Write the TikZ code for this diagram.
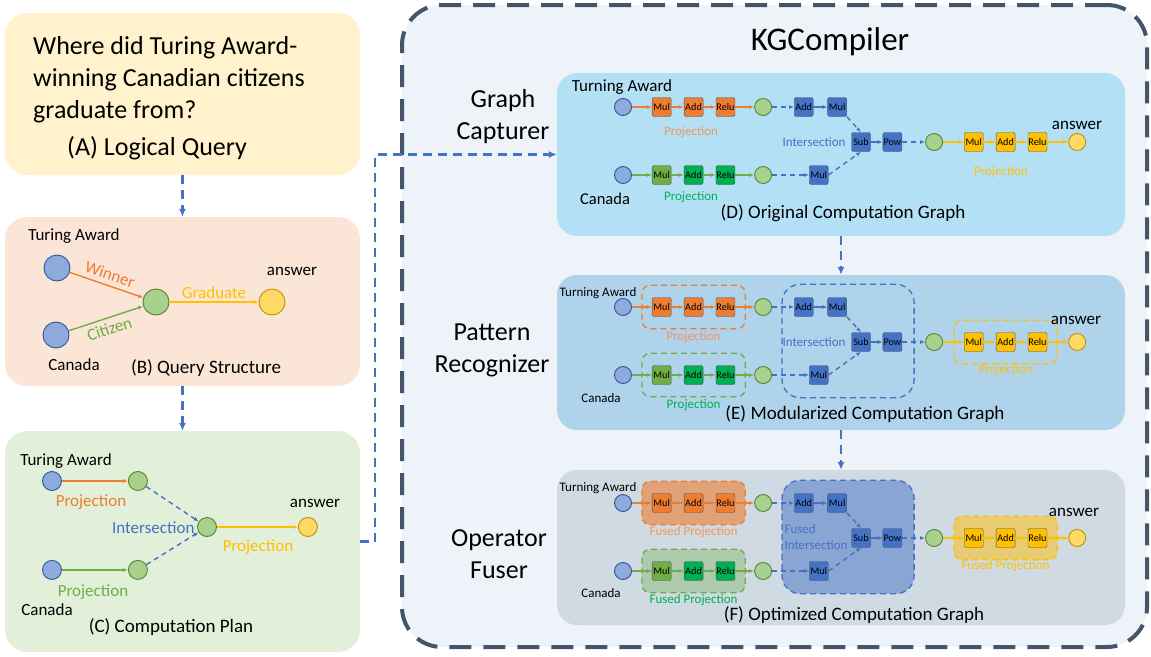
\documentclass[tikz,border=0pt]{standalone}
\usepackage{fontspec}
\setmainfont{Carlito}
\usetikzlibrary{positioning, fit, arrows.meta}

\definecolor{kgorange}{HTML}{ED7D31}
\definecolor{kggreen}{HTML}{70AD47}
\definecolor{kgbright}{HTML}{00B050}
\definecolor{kgyellow}{HTML}{FFC000}
\definecolor{kgblue}{HTML}{4472C4}
\definecolor{kgslate}{HTML}{44546A}
\definecolor{entfill}{HTML}{8FAADC}
\definecolor{entline}{HTML}{2F5597}
\definecolor{varfill}{HTML}{A9D18E}
\definecolor{varline}{HTML}{548235}
\definecolor{ansfill}{HTML}{FFD966}
\definecolor{ansline}{HTML}{BF9000}
\definecolor{queryfill}{HTML}{FFF2CC}
\definecolor{structfill}{HTML}{FBE5D6}
\definecolor{planfill}{HTML}{E2F0D9}
\definecolor{framefill}{HTML}{EEF3FA}
\definecolor{capfill}{HTML}{B4E0F5}
\definecolor{recfill}{HTML}{AFD3EA}
\definecolor{fusefill}{HTML}{D0DAE3}

\newcommand{\fsz}[1]{\fontsize{#1}{\fpeval{1.25*#1}}\selectfont}

\pgfdeclarelayer{back}
\pgfdeclarelayer{fused}
\pgfsetlayers{back,fused,main}

\tikzset{
    >={Latex[length=5pt,width=4pt]}, % small solid heads
    card/.style={rounded corners=22pt, minimum width=355pt, inner sep=0pt},
    panel/.style={rounded corners=20pt, minimum width=568pt, inner sep=0pt},
    op/.style={draw=kgslate, rounded corners=2pt, minimum width=19pt, minimum height=19pt, inner sep=0pt, font=\fsz{10.2}},
    ent/.style={circle, draw=entline, fill=entfill, line width=0.9pt, minimum size=#1, inner sep=0pt},
    ent/.default=17pt,
    var/.style={circle, draw=varline, fill=varfill, line width=0.9pt, minimum size=#1, inner sep=0pt},
    var/.default=17pt,
    ans/.style={circle, draw=ansline, fill=ansfill, line width=0.9pt, minimum size=#1, inner sep=0pt},
    ans/.default=17pt,
    flow/.style={->, draw=#1, line width=1.4pt},
    link/.style={->, draw=kgblue, line width=1.4pt, dash pattern=on 5pt off 4pt},
    stage/.style={-{Latex[length=8pt,width=7pt]}, draw=kgblue, line width=2.3pt, dash pattern=on 9pt off 6pt},
    modbox/.style={draw=#1, line width=1.3pt, dash pattern=on 6pt off 4pt, rounded corners=8pt, inner xsep=10pt, inner ysep=12pt},
}

% one computation graph, rows at 0 / 35 / 68
\newcommand{\opgraph}{%
    \node[ent] (ta) at (623,0) {};
    \node[op, fill=kgorange, right=20pt of ta] (pmul1) {Mul};
    \node[op, fill=kgorange, right=12.5pt of pmul1] (padd1) {Add};
    \node[op, fill=kgorange, right=12.5pt of padd1] (prelu1) {Relu};
    \node[var, right=19pt of prelu1] (v1) {};
    \node[op, fill=kgblue, right=22pt of v1] (iadd) {Add};
    \node[op, fill=kgblue, right=14pt of iadd] (imul1) {Mul};
    \node[ent] (ca) at (623,68) {};
    \node[op, fill=kggreen, right=20pt of ca] (pmul2) {Mul};
    \node[op, fill=kgbright, right=12.5pt of pmul2] (padd2) {Add};
    \node[op, fill=kgbright, right=12.5pt of padd2] (prelu2) {Relu};
    \node[var, right=19pt of prelu2] (v2) {};
    \node[op, fill=kgblue, right=37pt of v2] (imul2) {Mul};
    \node[op, fill=kgblue] (isub) at (861,35) {Sub};
    \node[op, fill=kgblue, right=12pt of isub] (ipow) {Pow};
    \node[var, right=23pt of ipow] (v3) {};
    \node[op, fill=kgyellow, right=21pt of v3] (ymul) {Mul};
    \node[op, fill=kgyellow, right=12.5pt of ymul] (yadd) {Add};
    \node[op, fill=kgyellow, right=12.5pt of yadd] (yrelu) {Relu};
    \node[ans, right=21pt of yrelu] (ans) {};
    \foreach \a/\b in {ta/pmul1, pmul1/padd1, padd1/prelu1, prelu1/v1}
        \draw[flow=kgorange] (\a) -- (\b);
    \foreach \a/\b in {ca/pmul2, pmul2/padd2, padd2/prelu2, prelu2/v2}
        \draw[flow=kggreen] (\a) -- (\b);
    \foreach \a/\b in {v3/ymul, ymul/yadd, yadd/yrelu, yrelu/ans}
        \draw[flow=kgyellow] (\a) -- (\b);
    \draw[link] (v1) -- (iadd);
    \draw[flow=kgblue] (iadd) -- (imul1);
    \draw[link] (imul1.south east) -- (isub.north);
    \draw[link] (v2) -- (imul2);
    \draw[link] (imul2.east) -- (isub.south);
    \draw[flow=kgblue] (isub) -- (ipow);
    \draw[link] (ipow) -- (v3);
}

\begin{document}
\begin{tikzpicture}[x=1pt, y=-1pt]
    \useasboundingbox (0,0) rectangle (1151,656);

    \begin{pgfonlayer}{back}
        \node[draw=kgslate, fill=framefill, line width=4pt, dash pattern=on 22pt off 12pt,
              rounded corners=40pt, minimum width=745pt, minimum height=642pt, inner sep=0pt] (kg) at (774.5,326) {};
        \node[card, fill=queryfill, minimum height=162pt] (qa) at (182.5,94) {};
        \node[card, fill=structfill, minimum height=169pt] (qb) at (182.5,301.5) {};
        \node[card, fill=planfill, minimum height=221pt] (qc) at (182.5,541.5) {};
        \node[panel, fill=capfill, minimum height=163pt] (gd) at (841,154.5) {};
        \node[panel, fill=recfill, minimum height=155pt] (ge) at (841,352.5) {};
        \node[panel, fill=fusefill, minimum height=155pt] (gf) at (841,547.5) {};
    \end{pgfonlayer}

    % (A) logical query
    \node[font=\fontsize{26}{32}\selectfont, align=left, anchor=north west, inner sep=0pt] (qtext) at (33,36)
        {Where did Turing Award-\\winning Canadian citizens\\graduate from?};
    \node[font=\fsz{26}, anchor=base west, inner sep=0pt] (qacap) at (67,155) {(A) Logical Query};

    % (B) query structure
    \node[ent=26pt] (bta) at (57,268) {};
    \node[ent=26pt] (bca) at (56,335) {};
    \node[var=26pt] (bvar) at (156,302) {};
    \node[ans=26pt] (bans) at (272,302) {};
    \draw[flow=kgorange] (bta) -- node[sloped, above=1pt, font=\fsz{17}, text=kgorange] (winner) {Winner} (bvar);
    \draw[flow=kggreen] (bca) -- node[sloped, below=1pt, font=\fsz{17}, text=kggreen] (citizen) {Citizen} (bvar);
    \draw[flow=kgyellow] (bvar) -- node[above=-1pt, font=\fsz{17}, text=kgyellow] (graduate) {Graduate} (bans);
    \node[font=\fsz{17}] (btalbl) at (74,236) {Turing Award};
    \node[font=\fsz{17}] (bcalbl) at (74,365) {Canada};
    \node[font=\fsz{17}] (banslbl) at (292,271) {answer};
    \node[font=\fsz{19}] (qbcap) at (206,368) {(B) Query Structure};

    % (C) computation plan
    \node[ent=19pt] (cta) at (52,481) {};
    \node[var=19pt, right=66pt of cta] (cv1) {};
    \node[ent=19pt, below=69pt of cta] (cca) {};
    \node[var=19pt, right=66pt of cca] (cv2) {};
    \node[var=19pt] (cvar) at (207,527) {};
    \node[ans=19pt, right=81pt of cvar] (cans) {};
    \draw[flow=kgorange] (cta) -- (cv1);
    \draw[flow=kggreen] (cca) -- (cv2);
    \draw[link] (cv1) -- (cvar);
    \draw[link] (cv2) -- (cvar);
    \draw[flow=kgyellow] (cvar) -- (cans);
    \node[font=\fsz{17}] (ctalbl) at (66,461) {Turing Award};
    \node[font=\fsz{17}, text=kgorange] (cproj1) at (91,502) {Projection};
    \node[font=\fsz{17}, text=kggreen] (cproj2) at (93,592) {Projection};
    \node[font=\fsz{17}, text=kgyellow] (cproj3) at (258,547) {Projection};
    \node[font=\fsz{17}, text=kgblue, anchor=east] (cinter) at (198,528) {Intersection};
    \node[font=\fsz{17}] (ccalbl) at (47,610) {Canada};
    \node[font=\fsz{17}] (canslbl) at (315,503) {answer};
    \node[font=\fsz{19}] (qccap) at (171,627) {(C) Computation Plan};

    % KGCompiler
    \node[font=\fsz{33}] (title) at (830,42) {KGCompiler};
    \node[font=\fontsize{26}{32}\selectfont, align=center] (capturer) at (503,117) {Graph\\Capturer};
    \node[font=\fontsize{26}{32}\selectfont, align=center] (recognizer) at (492,350) {Pattern\\Recognizer};
    \node[font=\fontsize{26}{32}\selectfont, align=center] (fuser) at (499,554) {Operator\\Fuser};

    % (D) original graph
    \begin{scope}[shift={(0,107)}, name prefix=d-]
        \opgraph
        \node[font=\fsz{17}] (talbl) at (622,-20) {Turning Award};
        \node[font=\fsz{16.5}] (calbl) at (605,92) {Canada};
        \node[font=\fsz{17}] (anslbl) at (1077,18) {answer};
        \node[font=\fsz{13}, text=kgorange!80] (plbl1) at (691,25) {Projection};
        \node[font=\fsz{13}, text=kgbright] (plbl2) at (691,90) {Projection};
        \node[font=\fsz{13}, text=kgyellow] (plbl3) at (1001,65) {Projection};
        \node[font=\fsz{13}, text=kgblue, anchor=east] (ilbl) at (849,35) {Intersection};
        \node[font=\fsz{19}] (cap) at (843,106) {(D) Original Computation Graph};
    \end{scope}

    % (E) modularized graph
    \begin{scope}[shift={(0,307)}, name prefix=e-]
        \opgraph
        \node[modbox=kgorange, fit=(pmul1)(prelu1)] (pbox1) {};
        \node[modbox=kggreen, fit=(pmul2)(prelu2)] (pbox2) {};
        \node[modbox=kgblue, rounded corners=18pt, inner xsep=12pt, inner ysep=13pt, fit=(iadd)(ipow)(imul2)] (ibox) {};
        \node[modbox=kgyellow, fit=(ymul)(yrelu)] (ybox) {};
        \node[font=\fsz{13}] (talbl) at (598,-14) {Turning Award};
        \node[font=\fsz{13}] (calbl) at (601,91) {Canada};
        \node[font=\fsz{17}] (anslbl) at (1076,13) {answer};
        \node[font=\fsz{13}, text=kgorange!80, below=-1pt of pbox1] (plbl1) {Projection};
        \node[font=\fsz{13}, text=kgbright, below=-1pt of pbox2] (plbl2) {Projection};
        \node[font=\fsz{13}, text=kgyellow, below=-3pt of ybox] (plbl3) {Projection};
        \node[font=\fsz{13}, text=kgblue, anchor=east] (ilbl) at (849,35) {Intersection};
        \node[font=\fsz{19}] (cap) at (865,107) {(E) Modularized Computation Graph};
    \end{scope}

    % (F) optimized graph
    \begin{scope}[shift={(0,503)}, name prefix=f-]
        \opgraph
        \begin{pgfonlayer}{fused}
            \node[modbox=kgorange, fill=kgorange, fill opacity=.6, fit=(pmul1)(prelu1)] (pbox1) {};
            \node[modbox=kggreen, fill=kggreen, fill opacity=.35, fit=(pmul2)(prelu2)] (pbox2) {};
            \node[modbox=kgblue, fill=kgblue, fill opacity=.5, rounded corners=18pt, inner xsep=12pt, inner ysep=13pt, fit=(iadd)(ipow)(imul2)] (ibox) {};
            \node[modbox=kgyellow, fill=kgyellow, fill opacity=.5, fit=(ymul)(yrelu)] (ybox) {};
        \end{pgfonlayer}
        \node[font=\fsz{13}] (talbl) at (598,-15) {Turning Award};
        \node[font=\fsz{13}] (calbl) at (601,90) {Canada};
        \node[font=\fsz{17}] (anslbl) at (1074,9) {answer};
        \node[font=\fsz{13}, text=kgorange!80, below=-2pt of pbox1] (plbl1) {Fused Projection};
        \node[font=\fsz{13}, text=kgbright, below=-2pt of pbox2] (plbl2) {Fused Projection};
        \node[font=\fsz{13}, text=kgyellow, below=-3pt of ybox] (plbl3) {Fused Projection};
        \node[font=\fontsize{13}{16}\selectfont, text=kgblue, align=left, anchor=west] (ilbl) at (781,34) {Fused\\Intersection};
        \node[font=\fsz{19}] (cap) at (854,112) {(F) Optimized Computation Graph};
    \end{scope}

    % flow between stages
    \draw[stage] (qa) -- (qb);
    \draw[stage] (qb) -- (qc);
    \draw[stage] (qc.east) -- ++(15,0) |- (gd.west);
    \draw[stage] (gd) -- (ge);
    \draw[stage] (ge) -- (gf);
\end{tikzpicture}
\end{document}
